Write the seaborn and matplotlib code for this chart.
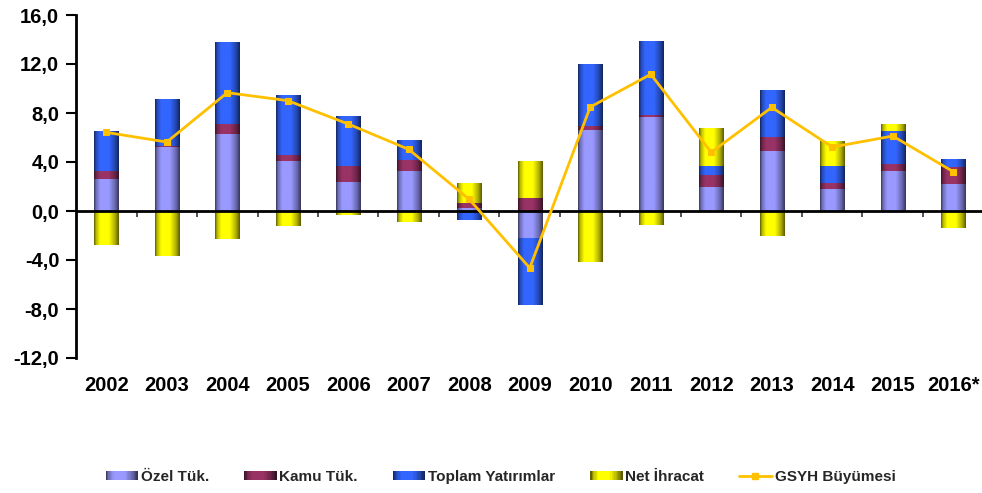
import numpy as np
import matplotlib
matplotlib.use("Agg")
import matplotlib.pyplot as plt
import matplotlib.colors as mcolors
from matplotlib.patches import Patch, Rectangle
from matplotlib.lines import Line2D
from matplotlib.legend_handler import HandlerBase
import seaborn as sns

# ---------------- data ----------------
years = ['2002', '2003', '2004', '2005', '2006', '2007', '2008', '2009',
         '2010', '2011', '2012', '2013', '2014', '2015', '2016*']
ozel_tuk = [2.59, 5.20, 6.29, 4.05, 2.37, 3.27, 0.25, -2.18, 6.64, 7.70, 1.93, 4.87, 1.80, 3.27, 2.23]
kamu_tuk = [0.68, 0.11, 0.84, 0.49, 1.28, 0.90, 0.38, 1.09, 0.27, 0.11, 0.98, 1.14, 0.46, 0.54, 1.33]
toplam_yatirim = [3.29, 3.84, 6.64, 4.95, 4.11, 1.63, -0.75, -5.52, 5.06, 6.04, 0.79, 3.84, 1.44, 2.69, 0.68]
net_ihracat = [-2.75, -3.67, -2.31, -1.20, -0.35, -0.90, 1.68, 3.02, -4.16, -1.14, 3.08, -2.04, 2.01, 0.63, -1.41]
gsyh = [6.42, 5.63, 9.66, 9.01, 7.10, 5.03, 0.95, -4.65, 8.49, 11.16, 4.79, 8.46, 5.22, 6.12, 3.21]

series_names = ['Özel Tük.', 'Kamu Tük.', 'Toplam Yatırımlar', 'Net İhracat']
line_name = 'GSYH Büyümesi'
y_ticks = [-12, -8, -4, 0, 4, 8, 12, 16]
y_tick_labels = ['-12,0', '-8,0', '-4,0', '0,0', '4,0', '8,0', '12,0', '16,0']

# ---------------- style ----------------
sns.set_theme(style="white")
plt.rcParams['font.family'] = ['Liberation Sans', 'DejaVu Sans']
plt.rcParams['font.weight'] = 'bold'

colors = ['#9999FF', '#993366', '#3366FF', '#FFFF00']
line_color = '#FFC000'

fig = plt.figure(figsize=(9.82, 4.93), dpi=100)
ax = fig.add_axes([76 / 982, (493 - 358) / 493, (983.5 - 76) / 982, (358 - 15) / 493])

x = np.arange(len(years))
all_series = [ozel_tuk, kamu_tuk, toplam_yatirim, net_ihracat]
pos_base = np.zeros(len(years))
neg_base = np.zeros(len(years))
bar_w = 0.40

# shading profile across a bar (cylinder look)
prof_knots = [0, 0.08, 0.25, 0.60, 0.85, 1.0]
prof_vals = [0.38, 0.72, 1.0, 1.0, 0.68, 0.36]
prof = np.interp(np.linspace(0, 1, 64), prof_knots, prof_vals)


def shade(color, f):
    rgb = np.array(mcolors.to_rgb(color))
    return np.clip(rgb[None, :] * f[:, None], 0, 1)


containers = []
for vals, col in zip(all_series, colors):
    vals = np.asarray(vals)
    bottoms = np.where(vals >= 0, pos_base, neg_base)
    bc = ax.bar(x, vals, width=bar_w, bottom=bottoms, color=col, linewidth=0, zorder=2)
    containers.append((bc, col))
    pos_base = pos_base + np.where(vals >= 0, vals, 0)
    neg_base = neg_base + np.where(vals < 0, vals, 0)

# gradient overlay clipped to each bar
for bc, col in containers:
    grad = shade(col, prof)[None, :, :]
    for p in bc.patches:
        x0, y0 = p.get_x(), p.get_y()
        w, h = p.get_width(), p.get_height()
        if h == 0:
            continue
        im = ax.imshow(grad, extent=[x0, x0 + w, min(y0, y0 + h), max(y0, y0 + h)],
                       aspect='auto', interpolation='bilinear', zorder=2.1)
        im.set_clip_path(p)

ax.axhline(0, color='black', linewidth=2, zorder=4)

sns.lineplot(x=x, y=gsyh, ax=ax, color=line_color, linewidth=2, marker='s',
             markersize=5, markeredgecolor=line_color, zorder=6)

ax.set_xlim(-0.5, len(years) - 0.5)
ax.set_ylim(-12, 16)
ax.set_aspect('auto')

ax.set_yticks(y_ticks)
ax.set_yticklabels(y_tick_labels, fontsize=14.5, fontweight='bold', color='black')
ax.set_xticks(x)
ax.set_xticklabels(years, fontsize=14.5, fontweight='bold', color='black')
ax.tick_params(axis='x', length=0, pad=13)
ax.tick_params(axis='y', direction='out', length=7, width=1.5, color='black', pad=5, left=True)

for s in ['top', 'right', 'bottom']:
    ax.spines[s].set_visible(False)
ax.spines['left'].set_linewidth(2)
ax.spines['left'].set_color('black')
ax.grid(False)

sec = ax.secondary_xaxis(12 / 28)
sec.set_xticks(np.arange(len(years) - 1) + 0.5)
sec.tick_params(axis='x', direction='out', length=4, width=1.2, color='#333333', labelbottom=False, labeltop=False)
for s in sec.spines.values():
    s.set_visible(False)


class GradientHandler(HandlerBase):
    def create_artists(self, legend, orig_handle, xdescent, ydescent, width, height, fontsize, trans):
        col = orig_handle.get_facecolor()
        n = 24
        f = np.interp(np.linspace(0, 1, n), prof_knots, prof_vals)
        cols = shade(col[:3], f)
        arts = []
        for i in range(n):
            r = Rectangle((-xdescent + width * i / n, -ydescent), width / n + 0.3, height,
                          facecolor=cols[i], edgecolor='none', transform=trans)
            arts.append(r)
        return arts


handles = [Patch(facecolor=c) for c in colors]
handles.append(Line2D([0], [0], color=line_color, linewidth=2, marker='s', markersize=4))
labels = series_names + [line_name]
hmap = {h: GradientHandler() for h in handles[:4]}
fig.legend(handles, labels, handler_map=hmap, loc='center', bbox_to_anchor=(0.5097, 16 / 493), ncol=5,
           frameon=False, prop={'size': 11, 'weight': 'bold'}, handlelength=2.1, handleheight=0.5,
           handletextpad=0.2, columnspacing=2.3)

fig.savefig('out.png', dpi=100)
